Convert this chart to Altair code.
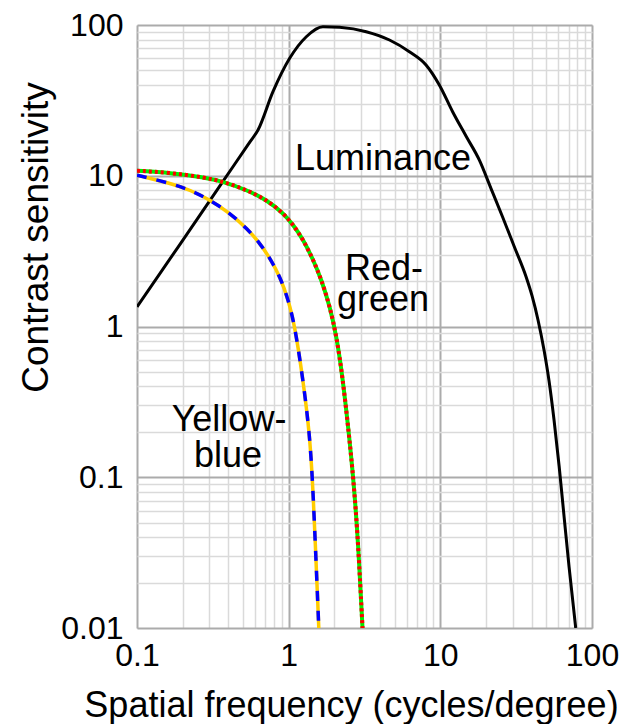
import altair as alt
import pandas as pd

# ---- data ----
lum_x = [0.1, 0.192, 0.352, 0.554, 0.628, 0.788, 1.015, 1.307, 1.682, 2.165, 3.245,
         4.62, 6.25, 8.05, 9.85, 12.05, 14.76, 18.06, 21.56, 25.7, 30.7, 36.8,
         40.3, 44.1, 48.3, 52.1, 56.2, 60.7, 65.4, 70.6, 78.1]
lum_y = [1.35, 3.51, 8.56, 16.72, 20.1, 36.1, 60.1, 83.6, 97.4, 96.5, 90.3,
         79.5, 66.5, 54.3, 40.0, 26.6, 18.35, 12.73, 8.25, 5.35, 3.394, 2.13,
         1.589, 1.101, 0.696, 0.435, 0.2398, 0.1188, 0.0553, 0.0254, 0.01]

rg_x = [0.1, 0.166, 0.275, 0.372, 0.529, 0.717, 0.923, 1.074, 1.25, 1.454, 1.649,
        1.87, 2.07, 2.266, 2.481, 2.677, 2.866, 3.068]
rg_y = [10.8, 10.47, 9.77, 9.13, 8.05, 6.91, 5.64, 4.71, 3.75, 2.76, 2.03,
        1.353, 0.856, 0.462, 0.2058, 0.0959, 0.0384, 0.01]

yb_x = [0.1, 0.166, 0.224, 0.3035, 0.411, 0.529, 0.647, 0.753, 0.877, 0.995, 1.10,
        1.236, 1.375, 1.45, 1.58]
yb_y = [10.1, 8.91, 8.05, 6.91, 5.64, 4.48, 3.56, 2.835, 2.14, 1.50, 0.997,
        0.462, 0.1965, 0.0823, 0.01]

x_tick_labels = ["0.1", "1", "10", "100"]
y_tick_labels = ["0.01", "0.1", "1", "10", "100"]
mantissas = [1, 2, 3, 4, 5, 6, 7, 8, 9]

label_lum = ["Luminance"]
label_rg = ["Red-", "green"]
label_yb = ["Yellow-", "blue"]

# ---- tables ----
rows = []
for name, xs, ys in [("lum", lum_x, lum_y), ("rg", rg_x, rg_y), ("yb", yb_x, yb_y)]:
    for i, (a, b) in enumerate(zip(xs, ys)):
        rows.append({"series": name, "x": a, "y": b, "i": i})
df = pd.DataFrame(rows)

def grid_values(labels):
    decades = [float(t) for t in labels]
    vals = []
    for d in decades[:-1]:
        for m in mantissas:
            vals.append(round(m * d, 6))
    vals.append(decades[-1])
    return vals

x_vals = grid_values(x_tick_labels)
y_vals = grid_values(y_tick_labels)

major_test = "abs(log(datum.value)/LN10 - round(log(datum.value)/LN10)) < 1e-6"
grid_color = {"condition": {"test": major_test, "value": "#ababab"}, "value": "#dadada"}
grid_width = {"condition": {"test": major_test, "value": 2}, "value": 1.5}
label_expr = f"({major_test}) ? format(datum.value, '~g') : ''"

FONT = "Liberation Sans"

x_enc = alt.X("x:Q",
              scale=alt.Scale(type="log", domain=[0.1, 100]),
              axis=alt.Axis(values=x_vals, labelExpr=label_expr, grid=True,
                            gridColor=grid_color, gridWidth=grid_width,
                            ticks=False, domain=False, labelOverlap=False,
                            labelFontSize=32, labelPadding=12, labelFont=FONT,
                            labelColor="black", labelFlush=False,
                            title="Spatial frequency (cycles/degree)",
                            titleFontSize=36, titleFont=FONT, titleFontWeight="normal",
                            titleColor="black", titleX=214, titleY=88,
                            titleBaseline="alphabetic", titleAlign="center"))
y_enc = alt.Y("y:Q",
              scale=alt.Scale(type="log", domain=[0.01, 100]),
              axis=alt.Axis(values=y_vals, labelExpr=label_expr, grid=True,
                            gridColor=grid_color, gridWidth=grid_width,
                            ticks=False, domain=False, labelOverlap=False,
                            labelFontSize=32, labelPadding=14, labelFont=FONT,
                            labelColor="black", labelFlush=False,
                            title="Contrast sensitivity",
                            titleFontSize=37, titleFont=FONT, titleFontWeight="normal",
                            titleColor="black", titleX=-90, titleY=212,
                            titleBaseline="alphabetic", titleAlign="center",
                            titleAngle=270))

base = alt.Chart(df).encode(x=x_enc, y=y_enc, order="i:Q")

lum = base.transform_filter("datum.series == 'lum'").mark_line(
    color="black", strokeWidth=3, interpolate="monotone", clip=True)
rg_base = base.transform_filter("datum.series == 'rg'").mark_line(
    color="#00ee00", strokeWidth=4, interpolate="basis", clip=True)
rg_dots = base.transform_filter("datum.series == 'rg'").mark_line(
    color="#ff0000", strokeWidth=4, strokeDash=[3, 3], interpolate="basis", clip=True)
yb_base = base.transform_filter("datum.series == 'yb'").mark_line(
    color="#ffcc00", strokeWidth=3.5, interpolate="basis", clip=True)
yb_dash = base.transform_filter("datum.series == 'yb'").mark_line(
    color="#0000ff", strokeWidth=3.5, strokeDash=[10, 10], interpolate="basis", clip=True)

def text_layer(txt, px, py):
    return alt.Chart(pd.DataFrame({"t": [txt]})).mark_text(
        font=FONT, fontSize=36, color="black", align="center", baseline="alphabetic"
    ).encode(text="t:N", x=alt.value(px), y=alt.value(py))

texts = [
    text_layer(label_lum[0], 246, 145),
    text_layer(label_rg[0], 247, 255),
    text_layer(label_rg[1], 246, 286),
    text_layer(label_yb[0], 92, 406),
    text_layer(label_yb[1], 91, 442),
]

chart = alt.layer(lum, rg_base, rg_dots, yb_base, yb_dash, *texts).properties(
    width=455, height=603,
    autosize=alt.AutoSizeParams(type="none"),
    padding={"left": 129, "top": 17, "right": 40, "bottom": 96},
).configure_view(stroke="#a0a0a0", strokeWidth=3).configure(background="white")

chart.save("out.html", embed_options={"renderer": "svg", "actions": False})
